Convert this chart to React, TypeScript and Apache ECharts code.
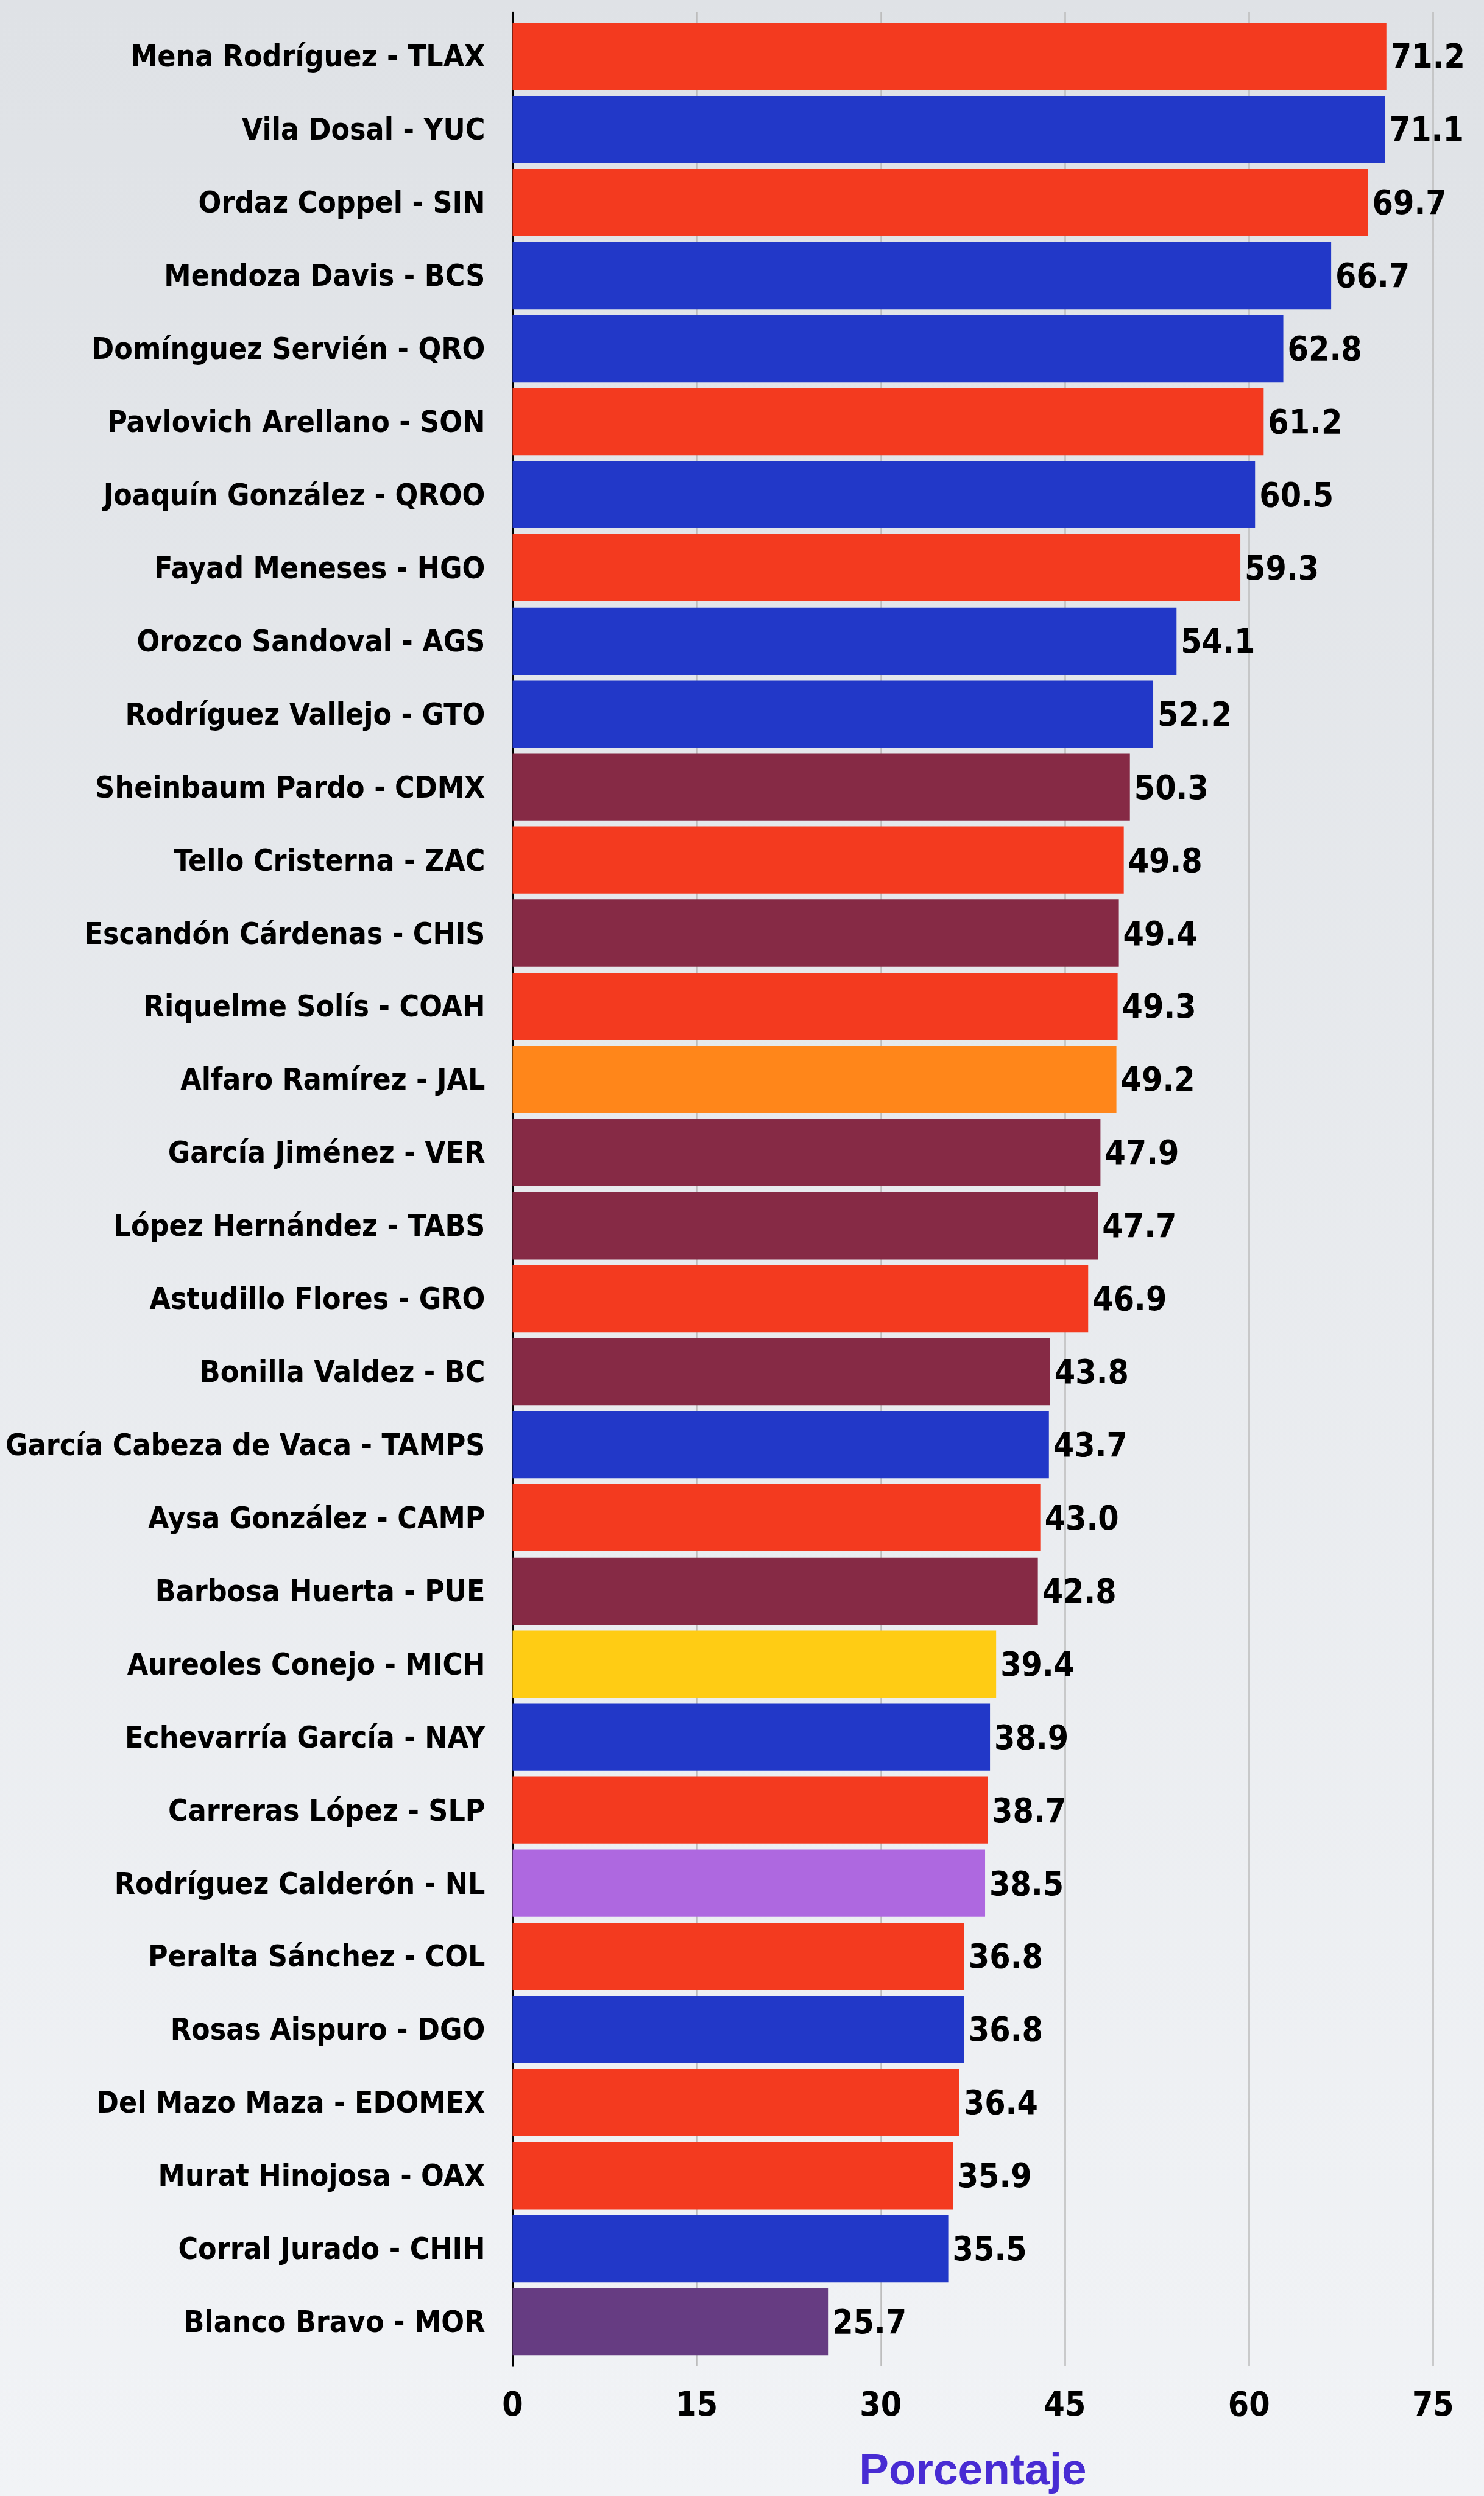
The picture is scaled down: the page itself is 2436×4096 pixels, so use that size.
import React, { useEffect, useRef } from "react";
import * as echarts from "echarts";

const categories = [
  "Mena Rodríguez - TLAX",
  "Vila Dosal - YUC",
  "Ordaz Coppel - SIN",
  "Mendoza Davis - BCS",
  "Domínguez Servién - QRO",
  "Pavlovich Arellano - SON",
  "Joaquín González - QROO",
  "Fayad Meneses - HGO",
  "Orozco Sandoval - AGS",
  "Rodríguez Vallejo - GTO",
  "Sheinbaum Pardo - CDMX",
  "Tello Cristerna - ZAC",
  "Escandón Cárdenas - CHIS",
  "Riquelme Solís - COAH",
  "Alfaro Ramírez - JAL",
  "García Jiménez - VER",
  "López Hernández - TABS",
  "Astudillo Flores - GRO",
  "Bonilla Valdez - BC",
  "García Cabeza de Vaca - TAMPS",
  "Aysa González - CAMP",
  "Barbosa Huerta - PUE",
  "Aureoles Conejo - MICH",
  "Echevarría García - NAY",
  "Carreras López - SLP",
  "Rodríguez Calderón - NL",
  "Peralta Sánchez - COL",
  "Rosas Aispuro - DGO",
  "Del Mazo Maza - EDOMEX",
  "Murat Hinojosa - OAX",
  "Corral Jurado - CHIH",
  "Blanco Bravo - MOR",
];

const values = [
  71.2, 71.1, 69.7, 66.7, 62.8, 61.2, 60.5, 59.3, 54.1, 52.2, 50.3, 49.8, 49.4,
  49.3, 49.2, 47.9, 47.7, 46.9, 43.8, 43.7, 43.0, 42.8, 39.4, 38.9, 38.7, 38.5,
  36.8, 36.8, 36.4, 35.9, 35.5, 25.7,
];

const parties = [
  "PRI", "PAN", "PRI", "PAN", "PAN", "PRI", "PAN", "PRI", "PAN", "PAN",
  "MORENA", "PRI", "MORENA", "PRI", "MC", "MORENA", "MORENA", "PRI", "MORENA",
  "PAN", "PRI", "MORENA", "PRD", "PAN", "PRI", "IND", "PRI", "PAN", "PRI",
  "PRI", "PAN", "PES",
];

const partyColors: Record<string, string> = {
  PRI: "#F33A1F",
  PAN: "#2238C8",
  MORENA: "#862A45",
  MC: "#FF861A",
  PRD: "#FFCC14",
  IND: "#AE68E0",
  PES: "#663C82",
};

const xTicks = { min: 0, max: 75, interval: 15 };
const axisTitle = "Porcentaje";

const W = 2436;
const H = 4096;
const S = 0.983;

export default function App() {
  const ref = useRef<HTMLDivElement>(null);

  useEffect(() => {
    document.body.style.margin = "0";
    if (!ref.current) return;
    const chart = echarts.init(ref.current, undefined, { renderer: "svg" });

    const left = 856 * S;
    const right = W - 2393 * S;
    const cond = "DejaVu Sans Condensed";

    chart.setOption({
      animation: false,
      backgroundColor: {
        type: "linear",
        x: 0,
        y: 0,
        x2: 0,
        y2: 1,
        colorStops: [
          { offset: 0, color: "#DFE2E6" },
          { offset: 1, color: "#F1F3F6" },
        ],
      },
      grid: [
        { left, right, top: 33 * S, bottom: H - 3937 * S },
        { left, right, top: 20 * S, bottom: H - 3950 * S },
      ],
      xAxis: [
        {
          gridIndex: 0,
          type: "value",
          min: xTicks.min,
          max: xTicks.max,
          interval: xTicks.interval,
          show: false,
        },
        {
          gridIndex: 1,
          type: "value",
          min: xTicks.min,
          max: xTicks.max,
          interval: xTicks.interval,
          axisLine: { show: false },
          axisTick: { show: false },
          splitLine: { show: true, lineStyle: { color: "#BDBDBD", width: 2.5 } },
          axisLabel: {
            color: "#000",
            fontFamily: cond,
            fontWeight: "bold",
            fontSize: 55,
            verticalAlign: "middle",
            margin: 62,
          },
        },
      ],
      yAxis: [
        {
          gridIndex: 0,
          type: "category",
          data: categories,
          inverse: true,
          axisLine: { show: false },
          axisTick: { show: false },
          splitLine: { show: false },
          axisLabel: {
            color: "#000",
            fontFamily: cond,
            fontWeight: "bold",
            fontSize: 49.5,
            margin: 45,
            verticalAlign: "middle",
          },
        },
        {
          gridIndex: 1,
          type: "value",
          min: 0,
          max: 1,
          axisLabel: { show: false },
          axisTick: { show: false },
          splitLine: { show: false },
          axisLine: { show: true, lineStyle: { color: "#000", width: 2 } },
        },
      ],
      series: [
        {
          type: "bar",
          xAxisIndex: 0,
          yAxisIndex: 0,
          barCategoryGap: "8%",
          data: values.map((v, i) => ({
            value: v,
            itemStyle: { color: partyColors[parties[i]] },
          })),
          label: {
            show: true,
            position: "right",
            distance: 7,
            formatter: (p: any) => Number(p.value).toFixed(1),
            color: "#000",
            fontFamily: cond,
            fontWeight: "bold",
            fontSize: 55,
          },
        },
      ],
      graphic: [
        {
          type: "text",
          x: (left + 2393 * S) / 2,
          y: 4128 * S - 6,
          style: {
            text: axisTitle,
            fill: "#482CD3",
            fontSize: 73,
            fontWeight: "bold",
            fontFamily: "Liberation Sans",
            align: "center",
            verticalAlign: "middle",
          },
        },
      ],
    });

    return () => chart.dispose();
  }, []);

  return (
    <div
      ref={ref}
      style={{ position: "absolute", left: 0, top: 0, width: W, height: H }}
    />
  );
}
